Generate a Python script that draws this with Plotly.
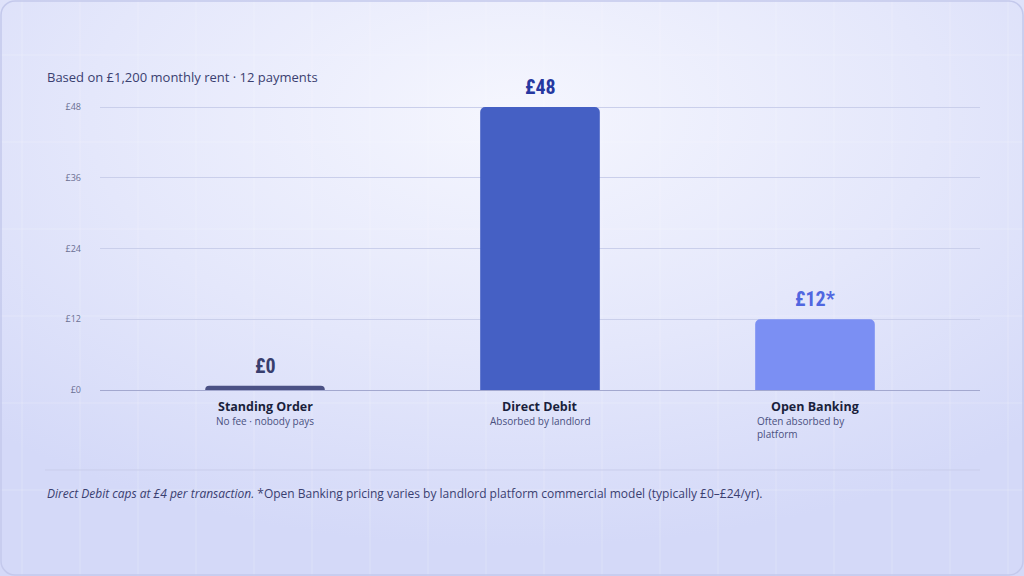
import base64
import plotly.graph_objects as go

# ---- data ----
categories = ["Standing Order", "Direct Debit", "Open Banking"]
annual_cost = [0, 48, 12]
value_labels = ["£0", "£48", "£12*"]
subtitles = ["No fee · nobody pays", "Absorbed by landlord", "Often absorbed by<br>platform"]
tick_values = [0, 12, 24, 36, 48]
tick_labels = ["£0", "£12", "£24", "£36", "£48"]

bar_colors = ["#4b5185", "#4560c4", "#7b8ff3"]
label_colors = ["#383e6e", "#2638a0", "#5066e0"]

# minimal visible stub for zero values (as in the reference)
display_vals = [v if v > 0 else 0.7 for v in annual_cost]

# ---- background (radial glow + faint grid) ----
grid_lines = "".join(
    f'<line x1="{x}" y1="0" x2="{x}" y2="576" stroke="white" stroke-opacity="0.22" stroke-width="1"/>'
    for x in range(22, 1024, 58)
) + "".join(
    f'<line x1="0" y1="{y}" x2="1024" y2="{y}" stroke="white" stroke-opacity="0.22" stroke-width="1"/>'
    for y in range(55, 576, 87)
)
svg = f'''<svg xmlns="http://www.w3.org/2000/svg" width="1024" height="576" viewBox="0 0 1024 576">
<defs><radialGradient id="g" cx="0.5" cy="0.2" r="0.75">
<stop offset="0" stop-color="#f5f6fe"/><stop offset="0.55" stop-color="#e4e7fb"/><stop offset="1" stop-color="#d4d9f8"/>
</radialGradient></defs>
<rect width="1024" height="576" fill="url(#g)"/>
{grid_lines}
<rect x="1" y="1" width="1022" height="574" rx="14" fill="none" stroke="#c4c9ec" stroke-width="1.5"/>
</svg>'''
bg_uri = "data:image/svg+xml;base64," + base64.b64encode(svg.encode()).decode()

fig = go.Figure()
fig.add_trace(go.Bar(
    x=list(range(len(categories))),
    y=display_vals,
    width=0.435,
    marker=dict(color=bar_colors, line=dict(width=0)),
    hoverinfo="skip",
))

annotations = []
for i, (cat, lab, sub) in enumerate(zip(categories, value_labels, subtitles)):
    annotations.append(dict(
        x=i, y=display_vals[i], xref="x", yref="y", text=f"<b>{lab}</b>",
        showarrow=False, yanchor="bottom", yshift=6,
        font=dict(family="Roboto Condensed, Liberation Sans Narrow, DejaVu Sans Condensed, Roboto", size=20, color=label_colors[i]),
    ))
    annotations.append(dict(
        x=i, y=0, xref="x", yref="paper", text=f"<b>{cat}</b>",
        showarrow=False, yanchor="top", yshift=-6,
        font=dict(family="Open Sans", size=12.5, color="#1a1f3c"),
    ))
    if "<br>" in sub:
        annotations.append(dict(
            x=i - 0.2175, y=0, xref="x", yref="paper", text=sub,
            showarrow=False, yanchor="top", xanchor="left", align="left", yshift=-22,
            font=dict(family="Open Sans", size=10, color="#4a5080"),
        ))
    else:
        annotations.append(dict(
            x=i, y=0, xref="x", yref="paper", text=sub,
            showarrow=False, yanchor="top", yshift=-22,
            font=dict(family="Open Sans", size=10, color="#4a5080"),
        ))

annotations.append(dict(
    x=45, y=77, xref="paper", yref="paper", text="Based on £1,200 monthly rent · 12 payments",
    showarrow=False, xanchor="left", yanchor="middle",
    font=dict(family="Open Sans", size=13, color="#3a4070"),
))
annotations.append(dict(
    x=45, y=493, xref="paper", yref="paper",
    text="<i>Direct Debit caps at £4 per transaction.</i> *Open Banking pricing varies by landlord platform commercial model (typically £0–£24/yr).",
    showarrow=False, xanchor="left", yanchor="middle",
    font=dict(family="Open Sans", size=12, color="#3a4070"),
))

# convert pixel paper coords for text annotations
W, H = 1024, 576
ML, MR, MT, MB = 100, 44, 80, 186
pw, ph = W - ML - MR, H - MT - MB
for a in annotations:
    if a["xref"] == "paper" and a["yref"] == "paper":
        a["x"] = (a["x"] - ML) / pw
        a["y"] = 1 - (a["y"] - MT) / ph

fig.update_layout(
    width=W, height=H,
    margin=dict(l=ML, r=MR, t=MT, b=MB),
    paper_bgcolor="#e3e6fa",
    plot_bgcolor="rgba(0,0,0,0)",
    barcornerradius=5,
    showlegend=False,
    annotations=annotations,
    images=[dict(source=bg_uri, xref="paper", yref="paper",
                 x=-ML / pw, y=1 + MT / ph, sizex=W / pw, sizey=H / ph,
                 xanchor="left", yanchor="top", sizing="stretch", layer="below")],
    shapes=[dict(type="line", xref="paper", yref="paper",
                 x0=(45 - ML) / pw, x1=(980 - ML) / pw,
                 y0=1 - (470 - MT) / ph, y1=1 - (470 - MT) / ph,
                 line=dict(color="#c9cdeb", width=1))],
    xaxis=dict(range=[-0.6, 2.6], showticklabels=False, showgrid=False, zeroline=False,
               showline=True, linecolor="#a3a8cf", linewidth=1, fixedrange=True),
    yaxis=dict(range=[0, 52.6], tickvals=tick_values, ticktext=tick_labels,
               showgrid=True, gridcolor="#cacfeb", gridwidth=1, zeroline=False,
               tickfont=dict(family="Open Sans", size=9, color="#6a6f92"),
               ticks="", ticklabelstandoff=18, fixedrange=True),
    font=dict(family="Open Sans"),
)

fig.write_html("out.html")
